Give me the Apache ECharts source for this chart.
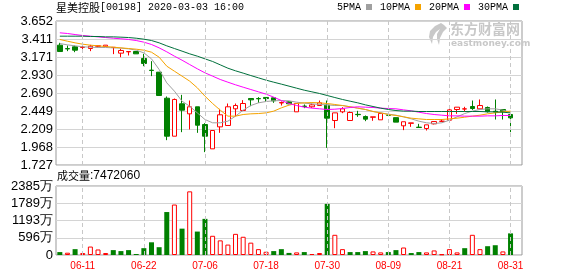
<!DOCTYPE html>
<html><head><meta charset="utf-8">
<script src="https://cdn.jsdelivr.net/npm/echarts@6/dist/echarts.min.js"></script>
<style>html,body{margin:0;padding:0;background:#fff}#c{width:578px;height:276px}</style>
</head><body><div id="c"></div>
<script>
const stockName = '星美控股';
const stockInfo = '[00198] 2020-03-03 16:00';
const categories = ['06-08','06-09','06-10','06-11','06-12','06-13','06-15','06-16','06-17','06-18',
  '06-19','06-22','06-23','06-24','06-26','06-28','06-29','06-30','07-03','07-06',
  '07-07','07-08','07-09','07-10','07-13','07-14','07-16','07-18','07-20','07-21',
  '07-22','07-23','07-24','07-27','07-28','07-30','07-31','08-01','08-03','08-04',
  '08-05','08-06','08-07','08-09','08-10','08-11','08-12','08-13','08-14','08-17',
  '08-18','08-21','08-22','08-24','08-25','08-26','08-27','08-28','08-29','08-31'];
const tickDates = ['06-11','06-22','07-06','07-18','07-30','08-09','08-21','08-31'];
const opens = [3.329,3.283,3.307,3.298,3.284,3.315,3.311,3.297,3.222,3.240,
  3.244,3.151,2.995,2.968,2.620,2.112,2.545,2.411,2.505,2.268,
  1.943,2.237,2.255,2.478,2.456,2.616,2.616,2.630,2.625,2.556,
  2.571,2.438,2.514,2.505,2.522,2.527,2.322,2.438,2.322,2.404,
  2.375,2.365,2.331,2.395,2.360,2.251,2.284,2.233,2.215,2.277,
  2.310,2.326,2.469,2.475,2.509,2.478,2.496,2.445,2.469,2.402];
const closes = [3.244,3.279,3.262,3.302,3.315,3.320,3.329,3.300,3.258,3.244,
  3.213,3.084,2.990,2.656,2.112,2.603,2.460,2.505,2.259,2.112,
  2.188,2.398,2.505,2.522,2.549,2.598,2.612,2.615,2.585,2.562,
  2.545,2.550,2.510,2.531,2.558,2.353,2.424,2.478,2.429,2.400,
  2.340,2.371,2.416,2.392,2.300,2.305,2.290,2.228,2.264,2.308,
  2.313,2.464,2.500,2.478,2.482,2.522,2.440,2.435,2.442,2.357];
const lows = [3.244,3.249,3.235,3.262,3.249,3.300,3.311,3.209,3.168,3.191,
  3.213,3.048,2.915,2.656,2.059,2.112,2.166,2.202,2.157,1.899,
  1.943,2.157,2.255,2.380,2.447,2.513,2.558,2.571,2.558,2.522,
  2.540,2.438,2.487,2.491,2.522,1.956,2.219,2.420,2.322,2.371,
  2.313,2.318,2.331,2.380,2.300,2.193,2.237,2.228,2.188,2.270,
  2.300,2.326,2.411,2.442,2.464,2.478,2.429,2.335,2.335,2.166];
const highs = [3.360,3.324,3.324,3.333,3.333,3.325,3.330,3.302,3.280,3.246,
  3.250,3.213,3.115,2.968,2.643,2.616,2.665,2.589,2.505,2.286,
  2.188,2.478,2.549,2.549,2.594,2.616,2.634,2.634,2.625,2.576,
  2.580,2.550,2.536,2.549,2.589,2.589,2.424,2.500,2.442,2.451,
  2.389,2.371,2.424,2.410,2.360,2.305,2.290,2.277,2.264,2.310,
  2.340,2.505,2.500,2.505,2.589,2.603,2.509,2.603,2.469,2.402];
const prevClose = 3.300;
// volume in 万股
const volumes = [101,79,202,68,292,191,68,169,135,169,
  34,236,439,270,1485,1744,911,2200,810,1249,
  664,506,360,731,630,427,202,112,135,202,
  72,90,101,34,68,1766,698,202,101,101,
  135,124,90,101,169,259,68,101,90,158,
  22,202,90,236,698,202,304,338,124,747.206];
const ma5 = [3.351,3.333,3.320,3.307,3.302,3.298,3.298,3.293,3.289,3.280,
  3.262,3.226,3.146,3.004,2.825,2.714,2.580,2.513,2.424,2.335,
  2.291,2.291,2.313,2.380,2.460,2.522,2.558,2.576,2.585,2.589,
  2.585,2.567,2.554,2.545,2.536,2.531,2.522,2.522,2.505,2.487,
  2.469,2.442,2.424,2.407,2.393,2.371,2.344,2.313,2.291,2.282,
  2.291,2.326,2.371,2.415,2.447,2.469,2.478,2.478,2.460,2.433];
const ma10 = [3.405,3.382,3.360,3.342,3.329,3.320,3.311,3.302,3.293,3.284,
  3.275,3.262,3.235,3.168,3.048,2.981,2.915,2.848,2.759,2.647,
  2.549,2.460,2.380,2.380,2.402,2.411,2.415,2.424,2.447,2.491,
  2.527,2.549,2.558,2.562,2.558,2.549,2.536,2.522,2.505,2.487,
  2.469,2.442,2.424,2.402,2.389,2.371,2.353,2.344,2.335,2.335,
  2.335,2.344,2.353,2.366,2.380,2.393,2.411,2.424,2.438,2.447];
const ma20 = [3.494,3.485,3.471,3.458,3.449,3.440,3.431,3.422,3.414,3.405,
  3.391,3.369,3.338,3.293,3.240,3.182,3.128,3.070,3.013,2.959,
  2.915,2.870,2.834,2.799,2.767,2.736,2.705,2.674,2.634,2.589,
  2.549,2.522,2.500,2.487,2.478,2.469,2.473,2.482,2.496,2.505,
  2.500,2.496,2.487,2.482,2.478,2.464,2.451,2.433,2.415,2.402,
  2.393,2.384,2.384,2.380,2.380,2.380,2.384,2.384,2.389,2.389];
const ma30 = [3.449,3.449,3.449,3.449,3.445,3.445,3.440,3.440,3.436,3.431,
  3.422,3.409,3.391,3.360,3.320,3.284,3.249,3.213,3.182,3.146,
  3.111,3.066,3.021,2.986,2.955,2.923,2.892,2.861,2.834,2.808,
  2.781,2.754,2.727,2.705,2.683,2.656,2.629,2.603,2.580,2.558,
  2.531,2.509,2.487,2.469,2.455,2.447,2.447,2.442,2.442,2.442,
  2.442,2.442,2.442,2.442,2.442,2.442,2.438,2.438,2.433,2.424];
const maNames = ['5PMA','10PMA','20PMA','30PMA'];
const priceTicks = ['1.727','1.968','2.209','2.449','2.690','2.930','3.171','3.411','3.652'];
const priceMin = 1.727, priceMax = 3.652;
const volMax = 2385;

const UP = '#ff0000', DOWN = '#008000';
const maColors = ['#a0a0a0', '#f5a300', '#ff00ff', '#00703c'];
const priceStep = (priceMax - priceMin) / (priceTicks.length - 1);

const candleData = categories.map((c, i) => [opens[i], closes[i], lows[i], highs[i]]);
const volData = volumes.map((v, i) => {
  const pc = i === 0 ? prevClose : closes[i - 1];
  const up = closes[i] >= pc;
  return {
    value: v,
    itemStyle: up ? { color: '#ffffff', borderColor: UP, borderWidth: 1 }
                  : { color: DOWN, borderColor: DOWN, borderWidth: 0 }
  };
});
const lastVol = Math.round(volumes[volumes.length - 1] * 10000);

const dashLine = {
  silent: true, symbol: 'none', label: { show: false },
  lineStyle: { type: [4, 3], color: '#c8c8c8', width: 1 },
  emphasis: { disabled: true },
  data: tickDates.map(d => ({ xAxis: d }))
};

const chart = echarts.init(document.getElementById('c'), null, { renderer: 'canvas' });
chart.setOption({
  animation: false,
  backgroundColor: '#ffffff',
  title: [
    { left: 56, top: 2, padding: 0,
      text: '{cn|' + stockName + '}{m|' + stockInfo + '}',
      textStyle: { fontWeight: 'normal', rich: {
        cn: { fontSize: 11, fontFamily: 'Noto Sans CJK SC', fontWeight: 'normal', color: '#000' },
        m: { fontSize: 10, fontFamily: 'Liberation Mono', fontWeight: 'normal', color: '#000' } } } },
    { left: 57, top: 170, padding: 0,
      text: '{cn|成交量}{n|:' + lastVol + '}',
      textStyle: { fontWeight: 'normal', rich: {
        cn: { fontSize: 11, fontFamily: 'Noto Sans CJK SC', fontWeight: 'normal', color: '#000' },
        n: { fontSize: 12, fontFamily: 'Liberation Sans', fontWeight: 'normal', color: '#000' } } } }
  ],
  legend: {
    left: 337, top: 2, padding: 0, align: 'right', icon: 'rect',
    itemWidth: 6, itemHeight: 6, itemGap: 8,
    data: maNames,
    textStyle: { fontSize: 10, fontFamily: 'Liberation Mono', color: '#000' }
  },
  graphic: [
    { type: 'text', left: 450, top: 22, z: 0, silent: true,
      style: { text: '东方财富网', font: 'bold 14px "Noto Sans CJK SC"', fill: '#c8c8c8' } },
    { type: 'text', left: 451, top: 39, z: 0, silent: true,
      style: { text: 'eastmoney.com', font: 'bold 9px "DejaVu Sans"', fill: '#c8c8c8' } },
    { type: 'polygon', left: 429, top: 23, z: 0, silent: true,
      shape: { points: [[14,0],[8,3],[3,8],[2,14],[5,21],[6,14],[9,9],[13,6],[10,11],[10,16],[12,22],[13,15],[16,9],[20,5],[17,2]] },
      style: { fill: '#c8c8c8' } }
  ],
  grid: [
    { left: 56, top: 21, width: 466, height: 144, show: true, borderColor: '#999', borderWidth: 1, backgroundColor: 'transparent' },
    { left: 56, top: 186, width: 466, height: 69, show: true, borderColor: '#999', borderWidth: 1, backgroundColor: 'transparent' }
  ],
  xAxis: [
    { type: 'category', gridIndex: 0, data: categories, max: categories.length,
      axisLine: { show: false }, axisTick: { show: false }, axisLabel: { show: false }, splitLine: { show: false } },
    { type: 'category', gridIndex: 1, data: categories, max: categories.length,
      axisLine: { show: false }, axisTick: { show: false }, splitLine: { show: false },
      axisLabel: { color: '#ff0000', fontSize: 10, fontFamily: 'Liberation Sans', margin: 6,
        interval: (i, v) => tickDates.includes(v) } }
  ],
  yAxis: [
    { type: 'value', gridIndex: 0, min: priceMin, max: priceMax, interval: priceStep,
      axisLine: { show: false }, axisTick: { show: false },
      splitLine: { lineStyle: { color: '#d4d4d4', width: 1 } },
      axisLabel: { fontSize: 13, fontFamily: 'Liberation Sans', color: '#000', margin: 3,
        formatter: v => priceTicks[Math.round((v - priceMin) / priceStep)] || '' } },
    { type: 'value', gridIndex: 1, min: 0, max: volMax, interval: volMax / 4,
      axisLine: { show: false }, axisTick: { show: false },
      splitLine: { lineStyle: { color: '#d4d4d4', width: 1 } },
      axisLabel: { fontSize: 13, fontFamily: 'Liberation Sans', color: '#000', margin: 3,
        formatter: v => v === 0 ? '0' : Math.round(v) + '万' } }
  ],
  series: [
    { type: 'line', name: 'grid0', xAxisIndex: 0, yAxisIndex: 0, data: [], z: 1, markLine: dashLine },
    { type: 'line', name: 'grid1', xAxisIndex: 1, yAxisIndex: 1, data: [], z: 1, markLine: dashLine },
    { type: 'candlestick', name: 'K', xAxisIndex: 0, yAxisIndex: 0, data: candleData, barWidth: 5,
      itemStyle: { color: '#ffffff', color0: DOWN, borderColor: UP, borderColor0: DOWN, borderWidth: 1 } },
    ...[ma5, ma10, ma20, ma30].map((d, i) => ({
      type: 'line', name: maNames[i], xAxisIndex: 0, yAxisIndex: 0, data: d,
      showSymbol: false, symbol: 'none', smooth: false,
      lineStyle: { color: maColors[i], width: 1 }, itemStyle: { color: maColors[i] }, z: 3
    })),
    { type: 'bar', name: 'VOL', xAxisIndex: 1, yAxisIndex: 1, data: volData, barWidth: 5 }
  ]
});
</script></body></html>
